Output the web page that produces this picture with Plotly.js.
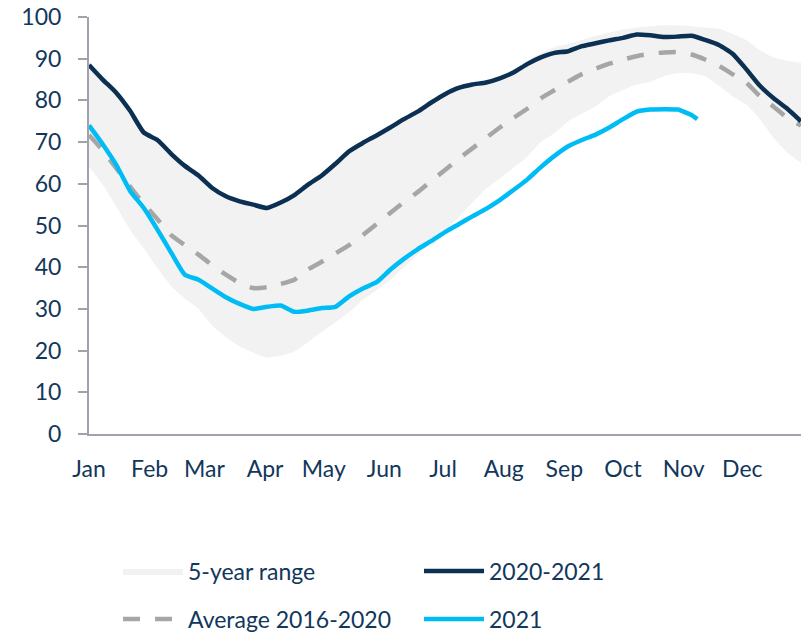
<!DOCTYPE html>
<html>
<head>
<meta charset="utf-8">
<script src="https://cdn.plot.ly/plotly-3.0.1.min.js"></script>
<style>html,body{margin:0;padding:0;background:#fff;}#chart{width:802px;height:635px;}</style>
</head>
<body>
<div id="chart"></div>
<script>
// Weekly sample dates (2021 calendar used as generic year)
const weekDates = [
  "2021-01-01","2021-01-08","2021-01-15","2021-01-22","2021-01-29",
  "2021-02-05","2021-02-12","2021-02-19","2021-02-26",
  "2021-03-05","2021-03-12","2021-03-19","2021-03-26",
  "2021-04-02","2021-04-09","2021-04-16","2021-04-23","2021-04-30",
  "2021-05-07","2021-05-14","2021-05-21","2021-05-28",
  "2021-06-04","2021-06-11","2021-06-18","2021-06-25",
  "2021-07-02","2021-07-09","2021-07-16","2021-07-23","2021-07-30",
  "2021-08-06","2021-08-13","2021-08-20","2021-08-27",
  "2021-09-03","2021-09-10","2021-09-17","2021-09-24",
  "2021-10-01","2021-10-08","2021-10-15","2021-10-22","2021-10-29",
  "2021-11-05","2021-11-12","2021-11-19","2021-11-26",
  "2021-12-03","2021-12-10","2021-12-17","2021-12-24","2021-12-31"
];

// 5-year range bounds
const rangeLow = [
  64, 59.8, 54.5, 49, 44.5, 39.8, 35.5, 32.5, 30, 26, 23.2, 21, 19.5,
  18.3, 18.8, 19.8, 22, 24.5, 26.8, 29.2, 32.2, 34.5, 37, 40, 43, 46,
  49, 52, 55.5, 58.8, 61.3, 63.8, 66.5, 70, 72.2, 75, 76.8, 78.6, 81,
  82.5, 83.8, 84.5, 85.8, 86.5, 86.5, 85.8, 83.5, 81, 79, 75.5, 71, 67.5, 65
];
const rangeHigh = [
  89, 85.5, 82.3, 78, 72.8, 71, 67.7, 64.8, 62.5, 59.5, 57.5, 56.3, 55.5,
  54.7, 56, 57.8, 60.3, 62.5, 65.3, 68.3, 70.3, 72.1, 74, 76, 77.8, 80,
  82, 83.5, 84.3, 84.8, 85.8, 87.2, 89.5, 91.3, 92.8, 93.5, 94.5, 95.5, 96.3,
  97, 97.5, 97.8, 98, 98, 97.8, 97.5, 97.2, 96, 94.5, 92, 90.3, 89.5, 89
];

// Average 2016-2020
const avg1620 = [
  71.7, 68, 63.7, 59.3, 55.2, 51.5, 47.7, 45.3, 43, 40.5, 38.2, 36.2, 35,
  35.2, 36, 37, 39.5, 41.3, 43.3, 45.3, 47.7, 50.3, 53, 55.6, 58, 60.7,
  63.3, 66, 68.5, 71, 73.5, 75.8, 78, 80.5, 82.5, 84.5, 86.3, 87.6, 88.8,
  89.8, 90.6, 91.2, 91.5, 91.6, 91, 89.8, 88.3, 86.3, 84.3, 81, 78.5, 75.8, 74
];

// 2020-2021
const s2020_2021 = [
  88.5, 85, 81.8, 77.5, 72.3, 70.5, 67.2, 64.3, 62, 59, 57, 55.8, 55,
  54.2, 55.5, 57.3, 59.8, 62, 64.8, 67.8, 69.8, 71.6, 73.5, 75.5, 77.3, 79.5,
  81.5, 83, 83.8, 84.3, 85.3, 86.7, 88.7, 90.3, 91.4, 91.8, 93, 93.7, 94.4,
  95, 95.8, 95.6, 95.2, 95.3, 95.5, 94.5, 93.3, 91.2, 87.5, 83.5, 80.5, 78, 75
];

// 2021 (ends early November)
const dates2021 = weekDates.slice(0, 45).concat(["2021-11-08"]);
const s2021 = [
  74, 69.5, 64.5, 58.3, 54.2, 49, 43.5, 38.2, 37, 34.9, 32.8, 31.2, 30,
  30.5, 30.8, 29.3, 29.6, 30.2, 30.5, 33, 34.9, 36.4, 39.4, 42, 44.3, 46.3,
  48.4, 50.3, 52.2, 54, 56.1, 58.5, 61, 64, 66.7, 69, 70.5, 71.8, 73.5,
  75.5, 77.3, 77.8, 77.9, 77.8, 76.5, 75.5
];

const navy = "#0b3052";
const textCol = "#12375b";
const axisCol = "#a2a2ac";
const fontFam = "Lato, 'Open Sans', sans-serif";

const traces = [
  {x: weekDates, y: rangeLow, type: "scatter", mode: "lines",
   line: {width: 0, shape: "spline", smoothing: 0.5}, showlegend: false, hoverinfo: "skip"},
  {x: weekDates, y: rangeHigh, type: "scatter", mode: "lines", name: "5-year range",
   fill: "tonexty", fillcolor: "#f2f2f2",
   line: {width: 0, shape: "spline", smoothing: 0.5}, legend: "legend"},
  {x: weekDates, y: avg1620, type: "scatter", mode: "lines", name: "Average 2016-2020",
   line: {color: "#a6a6a6", width: 4.5, dash: "17px,15px", shape: "spline", smoothing: 0.5}, legend: "legend3"},
  {x: weekDates, y: s2020_2021, type: "scatter", mode: "lines", name: "2020-2021",
   line: {color: navy, width: 4.5, shape: "spline", smoothing: 0.5}, legend: "legend2"},
  {x: dates2021, y: s2021, type: "scatter", mode: "lines", name: "2021",
   line: {color: "#00bcf5", width: 4.5, shape: "spline", smoothing: 0.5}, legend: "legend4"}
];

function legendAt(px, py) {
  return {
    orientation: "v", itemwidth: 60,
    font: {family: fontFam, size: 23, color: textCol},
    xref: "container", yref: "container", xanchor: "left", yanchor: "middle",
    x: px / 802, y: 1 - py / 635,
    bgcolor: "rgba(0,0,0,0)", borderwidth: 0
  };
}

const layout = {
  width: 802, height: 635,
  margin: {l: 89, r: 1, t: 17, b: 201, autoexpand: false},
  paper_bgcolor: "#fff", plot_bgcolor: "#fff",
  font: {family: fontFam, size: 23, color: textCol},
  xaxis: {
    type: "date", range: ["2021-01-01", "2021-12-31"],
    tick0: "2021-01-01", dtick: "M1", tickformat: "%b",
    showgrid: false, zeroline: false, showline: true,
    linecolor: axisCol, linewidth: 2, ticks: "",
    ticklabelstandoff: 13,
    tickfont: {family: fontFam, size: 23, color: textCol}
  },
  yaxis: {
    range: [0, 100], dtick: 10, tick0: 0,
    showgrid: false, zeroline: false, showline: true,
    linecolor: axisCol, linewidth: 2,
    ticks: "outside", ticklen: 9, tickwidth: 2, tickcolor: axisCol,
    ticklabelstandoff: 12,
    tickfont: {family: fontFam, size: 23, color: textCol}
  },
  legend: legendAt(118, 571),
  legend2: legendAt(419, 571),
  legend3: legendAt(118, 619),
  legend4: legendAt(419, 619),
  showlegend: true
};

Plotly.newPlot("chart", traces, layout, {displayModeBar: false, staticPlot: true});
</script>
</body>
</html>
